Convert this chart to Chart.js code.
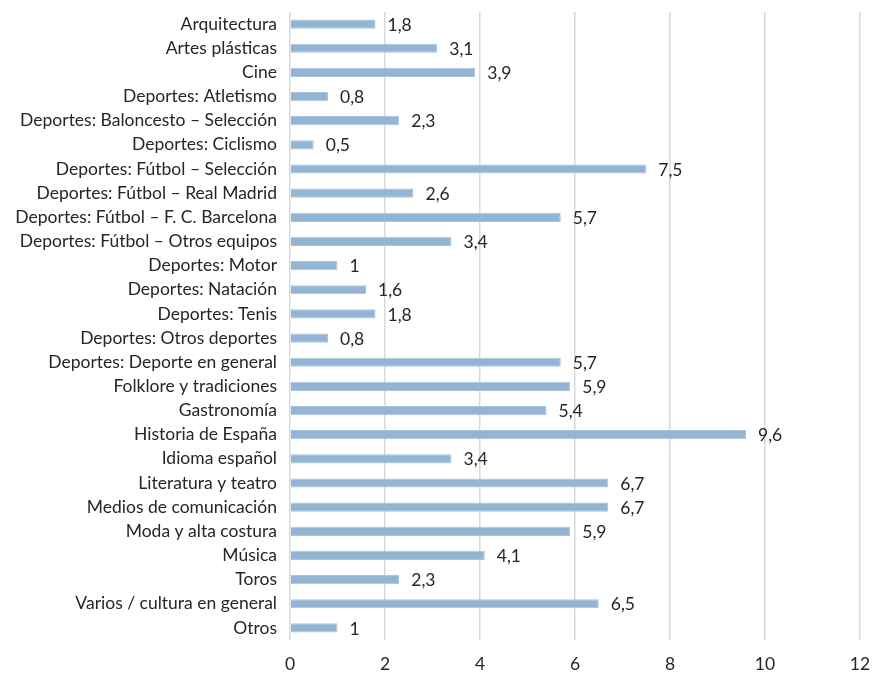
<!DOCTYPE html>
<html>
<head>
<meta charset="utf-8">
<script src="https://cdn.jsdelivr.net/npm/chart.js@4"></script>
<style>
  body { margin: 0; background: #ffffff; }
</style>
</head>
<body>
<canvas id="chart" width="872" height="675"></canvas>
<script>
const categories = [
  "Arquitectura",
  "Artes plásticas",
  "Cine",
  "Deportes: Atletismo",
  "Deportes: Baloncesto – Selección",
  "Deportes: Ciclismo",
  "Deportes: Fútbol – Selección",
  "Deportes: Fútbol – Real Madrid",
  "Deportes: Fútbol – F. C. Barcelona",
  "Deportes: Fútbol – Otros equipos",
  "Deportes: Motor",
  "Deportes: Natación",
  "Deportes: Tenis",
  "Deportes: Otros deportes",
  "Deportes: Deporte en general",
  "Folklore y tradiciones",
  "Gastronomía",
  "Historia de España",
  "Idioma español",
  "Literatura y teatro",
  "Medios de comunicación",
  "Moda y alta costura",
  "Música",
  "Toros",
  "Varios / cultura en general",
  "Otros",
];
const values = [
  1.8, 3.1, 3.9, 0.8, 2.3, 0.5, 7.5, 2.6, 5.7, 3.4, 1, 1.6, 1.8, 0.8, 5.7,
  5.9, 5.4, 9.6, 3.4, 6.7, 6.7, 5.9, 4.1, 2.3, 6.5, 1,
];
const xTicks = [0, 2, 4, 6, 8, 10, 12];

const fontFamily = "Lato, 'Open Sans', sans-serif";
const fontSize = 17.5;

// labels at the end of each bar, decimal comma
const valueLabels = {
  id: "valueLabels",
  afterDatasetsDraw(chart) {
    const ctx = chart.ctx;
    const meta = chart.getDatasetMeta(0);
    ctx.save();
    ctx.fillStyle = "#262626";
    ctx.font = `${fontSize}px ${fontFamily}`;
    ctx.textAlign = "left";
    ctx.textBaseline = "middle";
    meta.data.forEach((bar, i) => {
      const text = String(values[i]).replace(".", ",");
      ctx.fillText(text, bar.x + 12, bar.y + 1);
    });
    ctx.restore();
  },
};

new Chart(document.getElementById("chart"), {
  type: "bar",
  data: {
    labels: categories,
    datasets: [
      {
        data: values,
        backgroundColor: "#93b4d4",
        borderColor: "#a9c4de",
        borderWidth: 1,
        categoryPercentage: 1,
        barPercentage: 0.38,
      },
    ],
  },
  options: {
    indexAxis: "y",
    responsive: false,
    animation: false,
    layout: {
      padding: { top: 12, right: 12, bottom: 0, left: 0 },
    },
    plugins: {
      legend: { display: false },
      tooltip: { enabled: false },
    },
    scales: {
      x: {
        min: 0,
        max: 12,
        afterBuildTicks: (axis) => {
          axis.ticks = xTicks.map((v) => ({ value: v }));
        },
        afterFit: (axis) => {
          axis.height = 35;
          axis.paddingLeft = 0;
          axis.paddingRight = 0;
        },
        grid: {
          color: "#d9d9d9",
          lineWidth: 1.5,
          drawTicks: false,
        },
        border: { display: false },
        ticks: {
          color: "#262626",
          padding: 14,
          font: { size: fontSize, family: fontFamily },
        },
      },
      y: {
        grid: { display: false, drawTicks: false },
        border: { display: false },
        afterFit: (axis) => {
          axis.width = 290;
          axis.paddingTop = 0;
          axis.paddingBottom = 0;
        },
        ticks: {
          color: "#262626",
          padding: 13,
          autoSkip: false,
          font: { size: fontSize, family: fontFamily },
        },
      },
    },
  },
  plugins: [valueLabels],
});
</script>
</body>
</html>
